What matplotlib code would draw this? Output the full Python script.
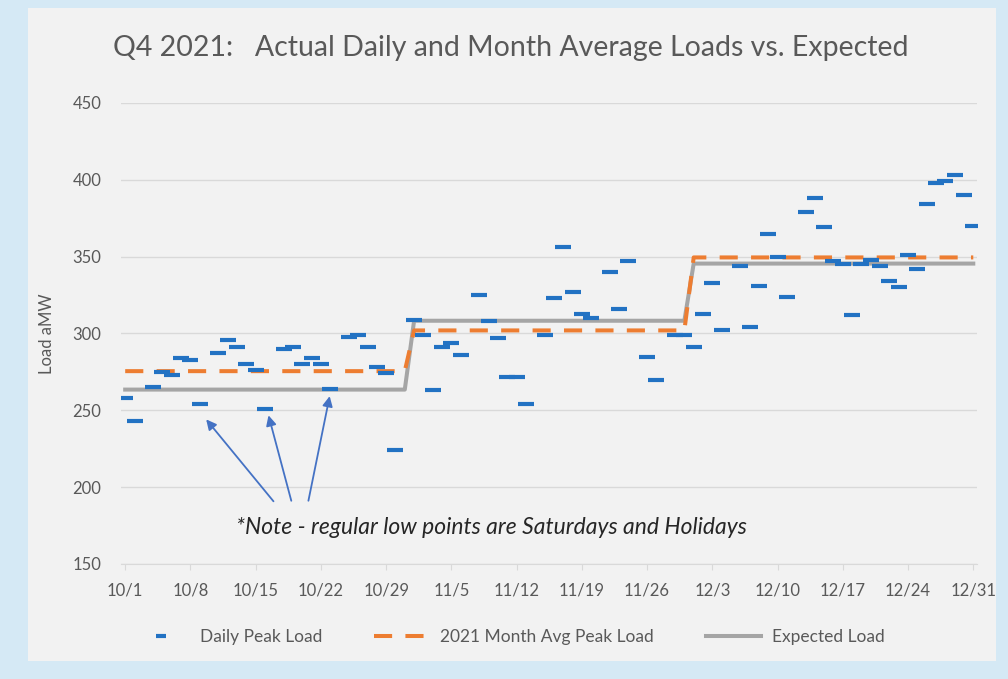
import numpy as np
import matplotlib
matplotlib.use("Agg")
import matplotlib.pyplot as plt
from matplotlib.patches import Rectangle
from matplotlib.lines import Line2D

plt.rcParams['font.family'] = ['Lato', 'DejaVu Sans']

nan = np.nan
# daily peak load (aMW), Sundays / Thanksgiving not shown
oct_peak = [258, 243, nan, 265, 275, 273, 284, 283, 254, nan, 287, 296, 291, 280, 276, 251,
            nan, 290, 291, 280, 284, 280, 264, nan, 298, 299, 291, 278, 274, 224, nan]
nov_peak = [309, 299, 263, 291, 294, 286, nan, 325, 308, 297, 272, 272, 254, nan, 299, 323,
            356, 327, 313, 310, nan, 340, 316, 347, nan, 285, 270, nan, 299, 299]
dec_peak = [291, 313, 333, 302, nan, 344, 304, 331, 365, 350, 324, nan, 379, 388, 369, 347,
            345, 312, 345, 348, 344, 334, 330, 351, 342, 384, 398, 399, 403, 390, 370]

month_days = [31, 30, 31]
month_avg = [275.5, 302, 349.5]     # 2021 month avg peak load
expected = [263.5, 308.3, 345.5]    # expected load

tick_labels = ['10/1', '10/8', '10/15', '10/22', '10/29', '11/5', '11/12', '11/19',
               '11/26', '12/3', '12/10', '12/17', '12/24', '12/31']

peak = np.array(oct_peak + nov_peak + dec_peak, dtype=float)
days = np.arange(len(peak))
avg_daily = np.repeat(month_avg, month_days)
exp_daily = np.repeat(expected, month_days)

blue, orange, gray = '#2272C3', '#ED7D31', '#A5A5A5'

fig = plt.figure(figsize=(10.08, 6.79), dpi=100, facecolor='#D5E9F5')
fig.patches.append(Rectangle((28/1008, 1-661/679), (996-28)/1008, (661-8)/679,
                             transform=fig.transFigure, facecolor='#F2F2F2',
                             edgecolor='none', zorder=-5))
ax = fig.add_axes([121/1008, 1-564/679, 856/1008, 461/679])
ax.set_facecolor('none')

l3, = ax.plot(days, exp_daily, color=gray, lw=2.9, label='Expected Load', zorder=2)
l2, = ax.plot(days, avg_daily, color=orange, lw=2.9, linestyle=(0, (4.5, 3.3)),
              label='2021 Month Avg Peak Load', zorder=3)
ax.plot(days, peak, linestyle='none', marker='_', ms=11, mew=3, color=blue, zorder=4)
l1 = Line2D([], [], linestyle='none', marker='_', ms=7, mew=3, color=blue,
            label='Daily Peak Load')

ax.set_ylim(150, 450)
ax.set_yticks(range(150, 451, 50))
ax.set_xlim(-0.45, 91.4)
ax.set_xticks(range(0, 92, 7))
ax.set_xticklabels(tick_labels)
ax.grid(axis='y', color='#D9D9D9', lw=1)
ax.set_axisbelow(True)
for s in ['top', 'right', 'left']:
    ax.spines[s].set_visible(False)
ax.spines['bottom'].set_color('#D9D9D9')
ax.tick_params(axis='x', length=4, color='#D9D9D9', labelcolor='#595959', labelsize=12, pad=9)
ax.tick_params(axis='y', length=0, labelcolor='#595959', labelsize=12, pad=35)
for t in ax.get_yticklabels():
    t.set_horizontalalignment('left')
ax.set_ylabel('Load aMW', fontsize=12, color='#595959')
ax.yaxis.set_label_coords(-0.077, 0.5)

fig.text(0.507, 0.93, 'Q4 2021:   Actual Daily and Month Average Loads vs. Expected',
         ha='center', va='center', fontsize=20.5, color='#595959')

ax.text(39.3, 173.8, '*Note - regular low points are Saturdays and Holidays',
        style='italic', fontsize=16.5, ha='center', va='center', color='#262626')
arrow_heads = [(8.5, 245.5), (15.3, 248.5), (22.0, 261)]
arrow_tails = [(16.1, 189.4), (17.9, 189.4), (19.6, 189.4)]
for h, t in zip(arrow_heads, arrow_tails):
    ax.annotate('', xy=h, xytext=t,
                arrowprops=dict(arrowstyle='-|>', color='#4472C4', lw=1.3, mutation_scale=15))

fig.legend(handles=[l1, l2, l3], loc='center', bbox_to_anchor=(0.505, 1-637/679), ncol=3,
           frameon=False, fontsize=12.5, labelcolor='#595959', handlelength=3.2,
           handletextpad=0.6, columnspacing=3.0)

fig.savefig('out.png', dpi=100, facecolor=fig.get_facecolor())
